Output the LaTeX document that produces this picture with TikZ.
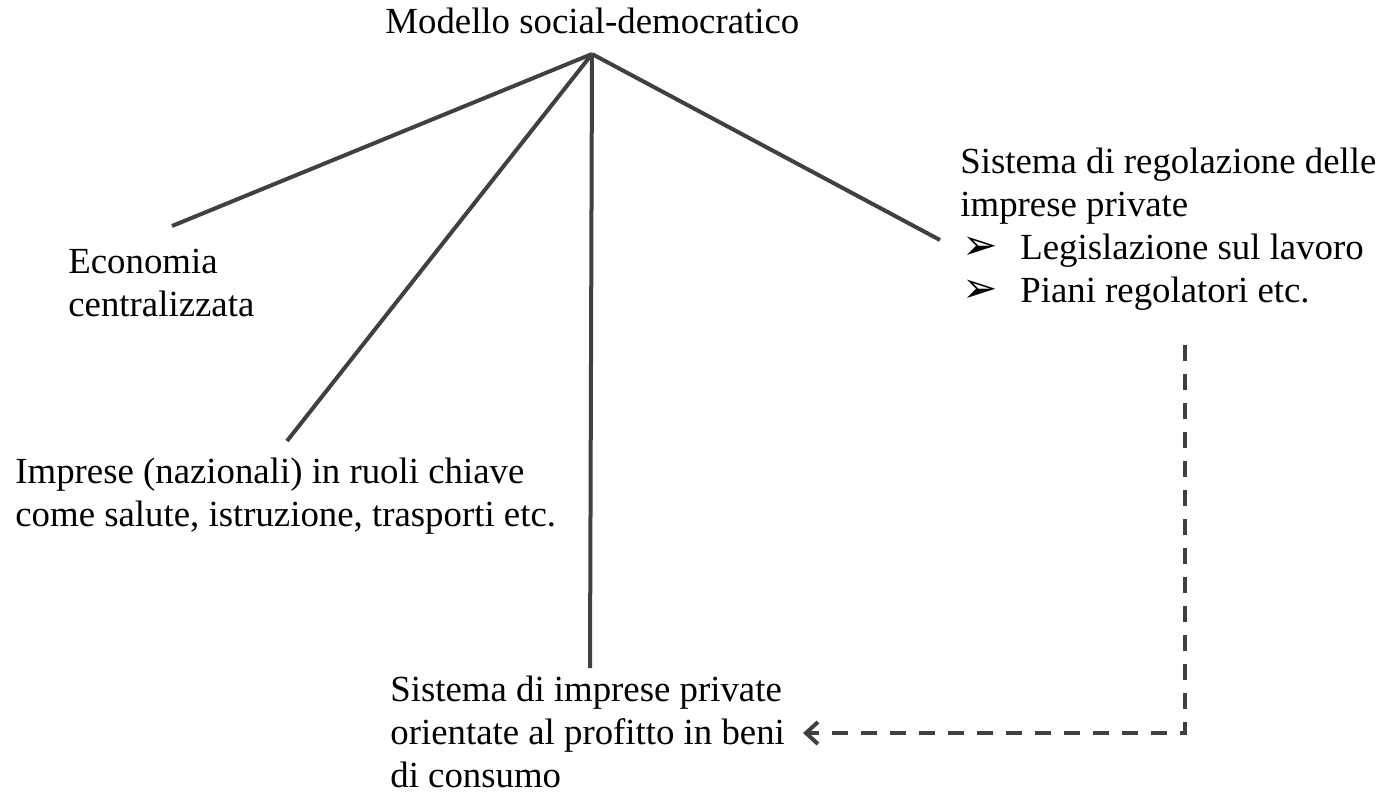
\documentclass[tikz,border=0pt]{standalone}
\usepackage{fontspec}
\setmainfont{Liberation Serif}
\newfontfamily\symfont{DejaVu Sans}
\usepackage{tikz}
\usetikzlibrary{arrows.meta}

\definecolor{linegray}{HTML}{404040}

\tikzset{
  label/.style={anchor=north west, inner sep=0pt, align=left,
    font=\fontsize{18.4}{21.5}\selectfont},
  branch/.style={draw=linegray, line width=2pt},
  hint/.style={draw=linegray, line width=2pt, dash pattern=on 8pt off 6.5pt,
    -{Straight Barb[length=6pt,width=11pt,line width=2pt]}}
}
\newcommand{\bul}{\makebox[29pt][l]{\scalebox{1.15}{\symfont\char"27A2}}}

\begin{document}
\begin{tikzpicture}[x=0.5pt, y=-0.5pt]
\useasboundingbox (0,0) rectangle (1376,794);

\node[label] (model) at (385,8) {Modello social-democratico};
\node[label] (econ) at (68,249) {Economia\\centralizzata};
\node[label] (natl) at (15,458) {Imprese (nazionali) in ruoli chiave\\come salute, istruzione, trasporti etc.};
\node[label] (priv) at (390,676) {Sistema di imprese private\\orientate al profitto in beni\\di consumo};
\node[label] (reg) at (960,148) {Sistema di regolazione delle\\imprese private\\
  \hspace*{1pt}\bul Legislazione sul lavoro\\
  \hspace*{1pt}\bul Piani regolatori etc.};

\coordinate (hub) at (592,54);
\coordinate (e1) at (172,226);
\coordinate (e2) at (287,441);
\coordinate (e3) at (590,668);
\coordinate (e4) at (940,240);

\foreach \e in {e1,e2,e3,e4}
  \draw[branch] (hub) -- (\e);

\coordinate (d1) at (1185,345);
\coordinate (d2) at (803,733);
\draw[hint] (d1) |- (d2);

\end{tikzpicture}
\end{document}
